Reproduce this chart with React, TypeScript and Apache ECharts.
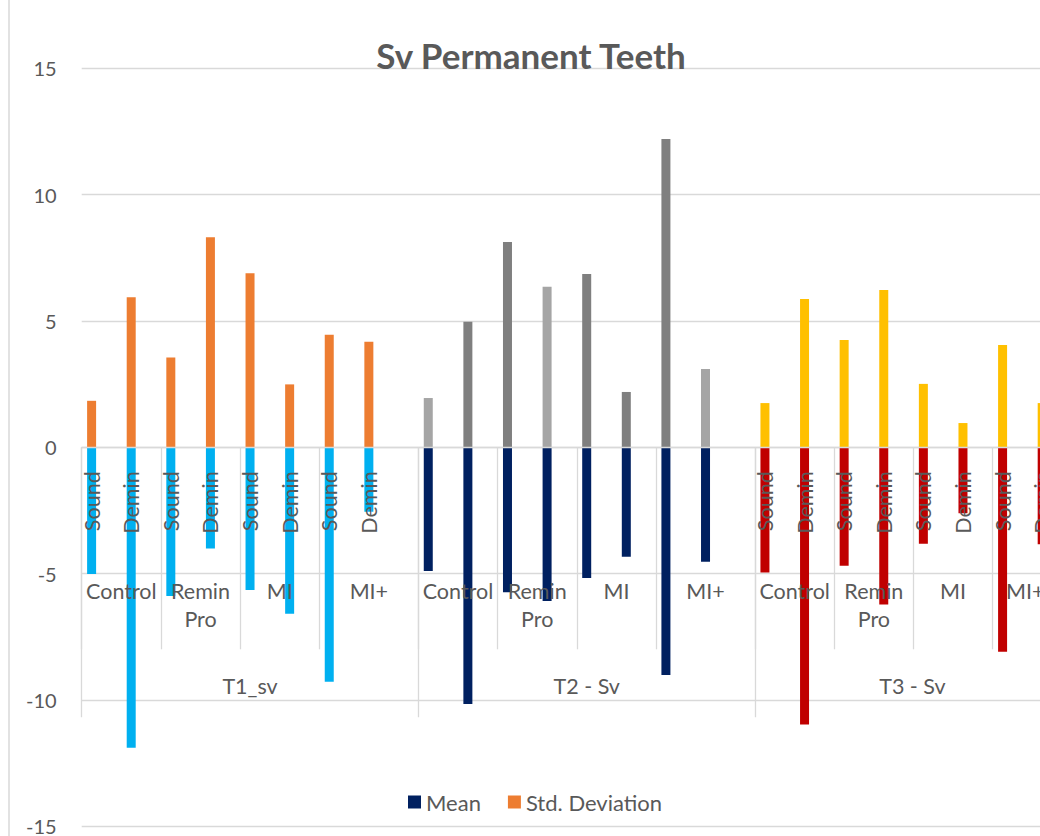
import React, { useEffect, useRef } from "react";
import * as echarts from "echarts";

// ---------- data ----------
const groups = ["T1_sv", "T2 - Sv", "T3 - Sv"];
const treatments = ["Control", "Remin Pro", "MI", "MI+"];
const conditions = ["Sound", "Demin"];
const showLeafLabels = [true, false, true];

const meanT1 = [-5.01, -11.89, -5.89, -4.01, -5.65, -6.59, -9.28, -2.55];
const stdT1 = [1.84, 5.94, 3.55, 8.31, 6.89, 2.49, 4.45, 4.18];
const meanT2 = [-4.9, -10.16, -5.74, -6.08, -5.17, -4.33, -9.01, -4.53];
const stdT2 = [1.95, 4.97, 8.13, 6.35, 6.86, 2.19, 12.2, 3.1];
const meanT3 = [-4.96, -10.97, -4.69, -6.22, -3.82, -2.61, -8.09, -3.84];
const stdT3 = [1.75, 5.87, 4.25, 6.23, 2.51, 0.96, 4.05, 1.75];

const yMin = -15;
const yMax = 15;
const yStep = 5;

// ---------- colours ----------
const meanColors = ["#00B0F0", "#002060", "#C00000"];
const LG = "#A5A5A5";
const DG = "#7F7F7F";
const stdColors = [
  Array(8).fill("#ED7D31"),
  [LG, DG, DG, LG, DG, DG, DG, LG],
  Array(8).fill("#FFC000"),
];
const TEXT = "#595959";
const GRIDC = "#D9D9D9";
const FONT = "Lato, 'Open Sans', sans-serif";

// ---------- slot layout (half-category units) ----------
const SLOTS = 17;
const tStart = [0, 4, 8, 12];
const tEnd = [4, 8, 12, 17];

const meanByGroup = [meanT1, meanT2, meanT3];
const stdByGroup = [stdT1, stdT2, stdT3];

const categoryIds: string[] = [];
const leafText: Record<string, string> = {};
const meanData: any[] = [];
const stdData: any[] = [];
groups.forEach((_g, gi) => {
  for (let s = 0; s < SLOTS; s++) {
    const id = `c${gi}-${s}`;
    categoryIds.push(id);
    const isBar = s < 16 && s % 2 === 0;
    if (isBar) {
      const t = Math.floor(s / 4);
      const c = (s % 4) / 2;
      const i = t * 2 + c;
      leafText[id] = showLeafLabels[gi] ? conditions[c] : "";
      meanData.push({ value: meanByGroup[gi][i], itemStyle: { color: meanColors[gi] } });
      stdData.push({ value: stdByGroup[gi][i], itemStyle: { color: stdColors[gi][i] } });
    } else {
      leafText[id] = "";
      meanData.push("-");
      stdData.push("-");
    }
  }
});
const total = groups.length * SLOTS;

// point axis: index i sits at i/2 slots (boundaryGap false)
const pointIds: string[] = [];
for (let i = 0; i <= total * 2; i++) pointIds.push(`p${i}`);

const tText: Record<number, string> = {};
const tTicks = new Set<number>();
const gText: Record<number, string> = {};
const gTicks = new Set<number>();
groups.forEach((g, gi) => {
  const base = gi * SLOTS * 2;
  gText[base + SLOTS] = g;
  gTicks.add(base);
  treatments.forEach((tr, ti) => {
    tText[base + tStart[ti] + tEnd[ti]] = tr.replace(" ", "\n");
    tTicks.add(base + tStart[ti] * 2);
  });
});
gTicks.add(total * 2);
tTicks.add(total * 2);

// labels near the right edge are pulled inwards (as the chart area clips them)
const lastT = (groups.length - 1) * SLOTS * 2 + tStart[3] + tEnd[3];
const lastG = (groups.length - 1) * SLOTS * 2 + SLOTS;

const labelStyle = { color: TEXT, fontSize: 21.5, fontFamily: FONT };
const tickLine = { color: GRIDC, width: 1.3 };

const GRID_LEFT = 81.7;
const GRID_TOP = 68.3;
const GRID_W = 1010;
const GRID_H = 758;

const option: any = {
  animation: false,
  backgroundColor: "#ffffff",
  title: {
    text: "Sv Permanent Teeth",
    left: 526,
    top: 32,
    textAlign: "center",
    textStyle: { color: TEXT, fontSize: 35, fontWeight: "bold", fontFamily: FONT },
  },
  legend: {
    left: 403,
    top: 786,
    icon: "rect",
    itemWidth: 13,
    itemHeight: 13,
    itemGap: 27,
    textStyle: { color: TEXT, fontSize: 22, fontFamily: FONT },
    data: ["Mean", "Std. Deviation"],
  },
  grid: [
    { left: GRID_LEFT, top: GRID_TOP, width: GRID_W, height: GRID_H, containLabel: false, outerBoundsMode: "none" },
    { left: GRID_LEFT, top: GRID_TOP, width: GRID_W, height: GRID_H / 2, containLabel: false, outerBoundsMode: "none" },
  ],
  graphic: [
    {
      type: "line",
      shape: { x1: 9, y1: 0, x2: 9, y2: 836 },
      style: { stroke: GRIDC, lineWidth: 1.5 },
      silent: true,
    },
  ],
  yAxis: [
    {
      type: "value",
      gridIndex: 0,
      min: yMin,
      max: yMax,
      interval: yStep,
      axisLine: { show: false, onZero: false },
      axisTick: { show: false },
      axisLabel: { ...labelStyle, fontSize: 20, margin: 25 },
      splitLine: { show: true, lineStyle: { color: GRIDC, width: 1.3 } },
    },
    {
      type: "value",
      gridIndex: 1,
      min: 0,
      max: 1,
      show: false,
    },
  ],
  xAxis: [
    {
      type: "category",
      gridIndex: 0,
      data: categoryIds,
      axisLine: { show: false, onZero: false },
      axisTick: { show: false },
      axisLabel: { show: false },
      splitLine: { show: false },
    },
    {
      type: "category",
      gridIndex: 1,
      position: "bottom",
      data: categoryIds,
      z: 5,
      axisLine: { show: true, onZero: false, lineStyle: tickLine },
      axisTick: { show: false },
      splitLine: { show: false },
      axisLabel: {
        ...labelStyle,
        interval: 0,
        rotate: 90,
        margin: 24,
        formatter: (v: string) => leafText[v] ?? "",
      },
    },
    {
      type: "category",
      gridIndex: 1,
      position: "bottom",
      boundaryGap: false,
      data: pointIds,
      z: 5,
      axisLine: { show: false, onZero: false },
      splitLine: { show: false },
      axisTick: {
        show: true,
        interval: (i: number) => tTicks.has(i),
        length: 202,
        lineStyle: tickLine,
      },
      axisLabel: {
        ...labelStyle,
        interval: (i: number) => tText[i] !== undefined,
        margin: 130,
        lineHeight: 28,
        align: "center",
        formatter: (v: string) => {
          const i = Number(v.slice(1));
          const t = tText[i] ?? "";
          return i === lastT && t ? `{n|${t}}` : t;
        },
        rich: {
          n: { ...labelStyle, lineHeight: 28, padding: [0, 34, 0, 0] },
        },
      },
    },
    {
      type: "category",
      gridIndex: 1,
      position: "bottom",
      boundaryGap: false,
      data: pointIds,
      z: 5,
      axisLine: { show: false, onZero: false },
      splitLine: { show: false },
      axisTick: {
        show: true,
        interval: (i: number) => gTicks.has(i),
        length: 270,
        lineStyle: tickLine,
      },
      axisLabel: {
        ...labelStyle,
        interval: (i: number) => gText[i] !== undefined,
        margin: 228,
        align: "center",
        formatter: (v: string) => {
          const i = Number(v.slice(1));
          const t = gText[i] ?? "";
          return i === lastG && t ? `{n|${t}}` : t;
        },
        rich: {
          n: { ...labelStyle, padding: [0, 22, 0, 0] },
        },
      },
    },
  ],
  series: [
    {
      name: "Mean",
      type: "bar",
      xAxisIndex: 0,
      yAxisIndex: 0,
      barWidth: 9,
      barGap: "-100%",
      itemStyle: { color: "#002060" },
      data: meanData,
    },
    {
      name: "Std. Deviation",
      type: "bar",
      xAxisIndex: 0,
      yAxisIndex: 0,
      barWidth: 9,
      barGap: "-100%",
      itemStyle: { color: "#ED7D31" },
      data: stdData,
    },
  ],
};

export default function App() {
  const ref = useRef<HTMLDivElement>(null);
  useEffect(() => {
    if (!ref.current) return;
    const chart = echarts.init(ref.current, undefined, { renderer: "svg" });
    chart.setOption(option);
    return () => chart.dispose();
  }, []);
  return (
    <div
      style={{
        position: "fixed",
        left: 0,
        top: 0,
        width: 1040,
        height: 836,
        overflow: "hidden",
        background: "#fff",
      }}
    >
      <div ref={ref} style={{ width: 1100, height: 836 }} />
    </div>
  );
}
